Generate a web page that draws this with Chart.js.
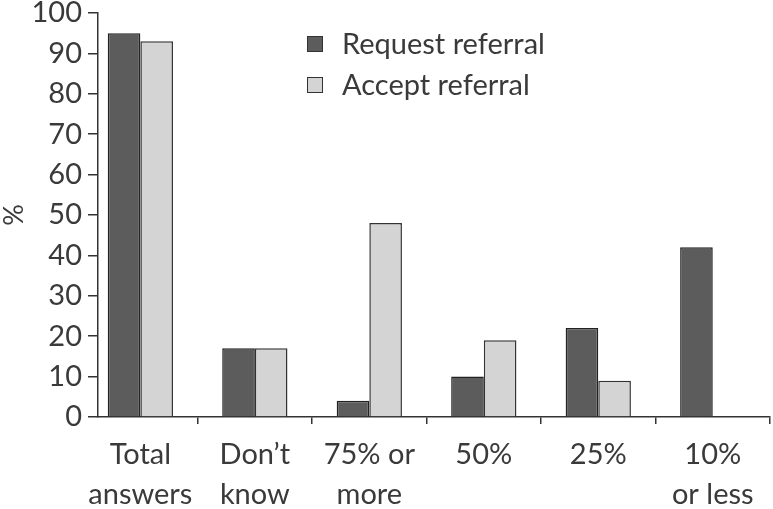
<!DOCTYPE html>
<html>
<head>
<meta charset="utf-8">
<script src="https://cdn.jsdelivr.net/npm/chart.js@4"></script>
<style>
html,body{margin:0;padding:0;background:#fff;}
#c{display:block;}
</style>
</head>
<body>
<canvas id="c" width="773" height="509"></canvas>
<script>
const categories = [
["Total","answers"],
["Don\u2019t","know"],
["75% or","more"],
"50%",
"25%",
["10%","or less"]
];
const requestReferral = [95,17,4,10,22,42];
const acceptReferral = [93,17,48,19,9,0];
const yTicks = [0,10,20,30,40,50,60,70,80,90,100];

const FONT = "Lato, 'DejaVu Sans', sans-serif";
const TXT = "#3a3a3a";

// legend drawn inside the plot, two rows
const innerLegend = {
id:"innerLegend",
afterDraw(chart){
const ctx = chart.ctx;
const x0 = 307, y0 = 44, gap = 41;
ctx.save();
ctx.font = "29px " + FONT;
ctx.textBaseline = "middle";
chart.data.datasets.forEach((ds,i)=>{
const y = y0 + i*gap;
ctx.fillStyle = ds.backgroundColor;
ctx.strokeStyle = "#333";
ctx.lineWidth = 1;
ctx.fillRect(x0,y-8,16,16);
ctx.strokeRect(x0+0.5,y-7.5,15,15);
ctx.fillStyle = TXT;
ctx.fillText(ds.label,x0+35,y+1);
});
ctx.restore();
}
};

// the y axis in the original crosses inside the first category,
// so the first band starts a bit left of the axis
const firstBandShift = {
id:"firstBandShift",
afterLayout(chart){
const x = chart.scales.x;
x._startValue = -0.37;
x._valueRange = x.max + 0.5 + 0.37;
}
};

const yTitle = {
id:"yTitle",
afterDraw(chart){
const ctx = chart.ctx;
const a = chart.chartArea;
ctx.save();
ctx.translate(14,(a.top+a.bottom)/2);
ctx.rotate(-Math.PI/2);
ctx.font = "27px " + FONT;
ctx.fillStyle = TXT;
ctx.textAlign = "center";
ctx.textBaseline = "middle";
ctx.fillText("%",0,0);
ctx.restore();
}
};

new Chart(document.getElementById("c"),{
type:"bar",
data:{
labels:categories,
datasets:[{
label:"Request referral",
data:requestReferral,
backgroundColor:"#5c5c5c",
borderColor:"#222",
borderWidth:1.5
},{
label:"Accept referral",
data:acceptReferral,
backgroundColor:"#d4d4d4",
borderColor:"#333",
borderWidth:1.5
}]
},
options:{
responsive:false,
animation:false,
devicePixelRatio:1,
layout:{padding:{top:0,right:3,left:0,bottom:0}},
datasets:{bar:{categoryPercentage:0.57,barPercentage:1}},
plugins:{
legend:{display:false},
tooltip:{enabled:false}
},
scales:{
x:{
grid:{display:true,drawOnChartArea:false,offset:true,tickLength:7,color:"#333",lineWidth:1.5},
border:{display:true,color:"#333",width:1.5},
ticks:{color:TXT,font:{family:FONT,size:29,lineHeight:1.38},maxRotation:0,autoSkip:false,padding:11},
afterFit(s){s.height=92;}
},
y:{
min:0,max:100,
afterBuildTicks(s){s.ticks=yTicks.map(v=>({value:v}));},
grid:{display:true,drawOnChartArea:false,tickLength:10,color:"#333",lineWidth:1.5},
border:{display:true,color:"#333",width:1.5},
ticks:{color:TXT,font:{family:FONT,size:29},padding:6},
title:{display:false},
afterFit(s){s.width=98;s.paddingTop=13;}
}
}
},
plugins:[innerLegend,firstBandShift,yTitle]
});
</script>
</body>
</html>
